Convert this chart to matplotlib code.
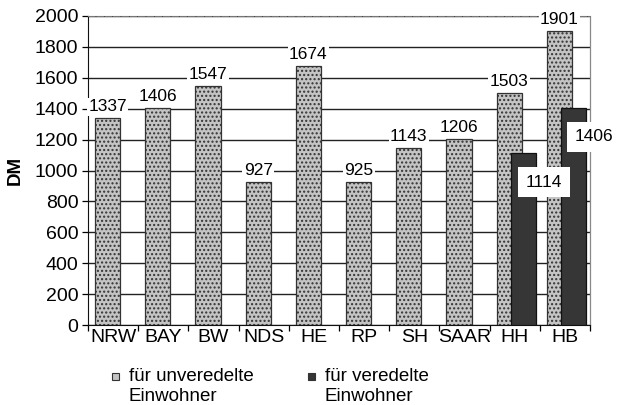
import matplotlib
matplotlib.use("Agg")
import matplotlib.pyplot as plt
from matplotlib.patches import Rectangle
import numpy as np

categories = ["NRW", "BAY", "BW", "NDS", "HE", "RP", "SH", "SAAR", "HH", "HB"]
unveredelt = [1337, 1406, 1547, 927, 1674, 925, 1143, 1206, 1503, 1901]
veredelt_cats = ["HH", "HB"]
veredelt = [1114, 1406]
yticks = [0, 200, 400, 600, 800, 1000, 1200, 1400, 1600, 1800, 2000]
legend_labels = ["für unveredelte\nEinwohner", "für veredelte\nEinwohner"]

plt.rcParams['font.family'] = ['Liberation Sans', 'DejaVu Sans']

W, H = 621, 405
fig = plt.figure(figsize=(W / 100, H / 100), dpi=100)
ax = fig.add_axes([88 / W, 1 - 325 / H, (590 - 88) / W, (325 - 16) / H])

x = np.arange(len(categories))
light_off, dark_off, bw = -0.11, 0.17, 0.5
light_col = "#c4c4c4"
dark_col = "#363636"

ax.set_axisbelow(True)
ax.yaxis.grid(True, color="#222222", lw=1.0)
ax.set_ylim(0, 2000)
ax.set_xlim(-0.5, len(categories) - 0.5)

lb = ax.bar(x + light_off, unveredelt, width=bw, color=light_col,
            edgecolor="#333333", linewidth=0.9, hatch="....", zorder=2)

xd = np.array([categories.index(c) for c in veredelt_cats])
db = ax.bar(xd + dark_off, veredelt, width=bw, color=dark_col,
            edgecolor="#111111", linewidth=0.9, zorder=3)

for xi, v in zip(x + light_off, unveredelt):
    ax.annotate(str(v), xy=(xi, v), xytext=(0, 3.0), textcoords="offset points",
                ha="center", va="bottom", fontsize=12.5, zorder=4,
                bbox=dict(boxstyle="square,pad=0.08", fc="white", ec="none"))

for xi, v in zip(xd + dark_off, veredelt):
    ax.annotate(str(v), xy=(xi + bw / 2, v), xytext=(6, -21), textcoords="offset points",
                ha="center", va="center", fontsize=12.5, zorder=5,
                bbox=dict(boxstyle="square,pad=0.45", fc="white", ec="none"))

ax.set_yticks(yticks)
ax.set_yticklabels([str(t) for t in yticks], fontsize=14)
ax.tick_params(axis="y", direction="out", length=4, width=0.9, pad=3)
ax.set_xticks(x)
ax.set_xticklabels(categories, fontsize=14)
ax.tick_params(axis="x", which="major", length=0, pad=3)
ax.set_xticks(np.arange(len(categories) + 1) - 0.5, minor=True)
ax.tick_params(axis="x", which="minor", direction="out", length=4, width=0.9)

ax.set_ylabel("DM", fontsize=13.5, fontweight="bold", labelpad=8)

ax.spines["left"].set_color("#111111")
ax.spines["bottom"].set_color("#111111")
ax.spines["top"].set_color("#777777")
ax.spines["top"].set_linestyle((0, (6, 1.5)))
ax.spines["top"].set_linewidth(0.8)
ax.spines["right"].set_color("#888888")
ax.spines["right"].set_linestyle((0, (1.5, 1)))
ax.spines["right"].set_linewidth(0.9)

# legend drawn manually below the plot
legend_x = [112, 308]
legend_cols = [light_col, dark_col]
for lx, col, lab in zip(legend_x, legend_cols, legend_labels):
    fig.patches.append(Rectangle((lx / W, 1 - 380 / H), 7 / W, 7 / H,
                                 transform=fig.transFigure, facecolor=col,
                                 edgecolor="#333333", linewidth=0.8))
    fig.text((lx + 17) / W, 1 - 368 / H, lab, ha="left", va="top",
             fontsize=13.5, linespacing=1.2)

fig.savefig("out.png", dpi=100)
